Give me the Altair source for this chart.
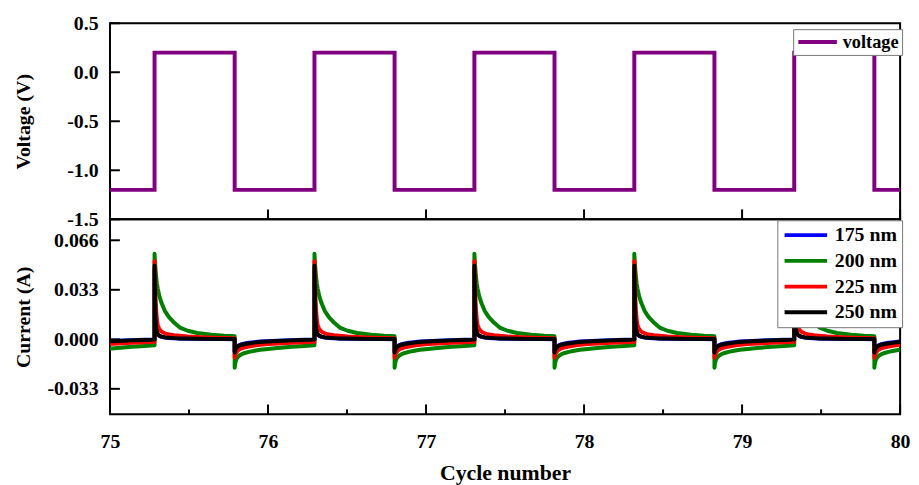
import altair as alt
import pandas as pd

# ---------------- data ----------------
x_major = [75, 76, 77, 78, 79, 80]
x_minor = [75.5, 76.5, 77.5, 78.5, 79.5]
v_ticks = [-1.5, -1.0, -0.5, 0.0, 0.5]
i_ticks = [-0.033, 0.0, 0.033, 0.066]

# switching instants (cycle number)
rise_times = [75.282, 76.294, 77.306, 78.318, 79.330]
fall_times = [74.777, 75.789, 76.801, 77.813, 78.825, 79.837]
v_high = 0.2
v_low = -1.2

series_names = ["175 nm", "200 nm", "225 nm", "250 nm"]
series_colors = ["#0000ff", "#008000", "#ff0000", "#000000"]

# current after a rising edge (offset in cycles, value in A)
high_dt = [0, 0.003, 0.006, 0.01, 0.015, 0.02, 0.03, 0.045, 0.065, 0.09,
           0.125, 0.16, 0.21, 0.27, 0.36, 0.44, 0.507]
high_175 = [0.046, 0.026, 0.013, 0.0070, 0.0045, 0.0033, 0.0023, 0.0016, 0.0012,
            0.0009, 0.0007, 0.0005, 0.0004, 0.0003, 0.0002, 0.0002, 0.0001]
high_200 = [0.057, 0.052, 0.047, 0.042, 0.037, 0.034, 0.029, 0.024, 0.019,
            0.015, 0.011, 0.0078, 0.0057, 0.0042, 0.0030, 0.0024, 0.0021]
high_225 = [0.052, 0.040, 0.029, 0.020, 0.013, 0.0095, 0.0068, 0.0050, 0.0040,
            0.0033, 0.0028, 0.0024, 0.0019, 0.0015, 0.0011, 0.0009, 0.0008]
high_250 = [0.049, 0.028, 0.014, 0.0075, 0.0048, 0.0035, 0.0025, 0.0018, 0.0013,
            0.0010, 0.0008, 0.0006, 0.0005, 0.0004, 0.0003, 0.0002, 0.0002]

# current after a falling edge
low_dt = [0, 0.003, 0.006, 0.01, 0.015, 0.02, 0.03, 0.045, 0.065, 0.09,
          0.125, 0.16, 0.21, 0.27, 0.36, 0.44, 0.505]
low_175 = [-0.0082, -0.0069, -0.0061, -0.0055, -0.0049, -0.0044, -0.0038, -0.0032, -0.0027,
           -0.0023, -0.0019, -0.0015, -0.0012, -0.0009, -0.0006, -0.0003, -0.0001]
low_200 = [-0.0190, -0.0165, -0.0148, -0.0135, -0.0125, -0.0118, -0.0108, -0.0099, -0.0091,
           -0.0084, -0.0076, -0.0070, -0.0064, -0.0058, -0.0050, -0.0044, -0.0040]
low_225 = [-0.0122, -0.0108, -0.0098, -0.0090, -0.0082, -0.0076, -0.0068, -0.0060, -0.0054,
           -0.0048, -0.0042, -0.0037, -0.0032, -0.0028, -0.0023, -0.0019, -0.0017]
low_250 = [-0.0088, -0.0074, -0.0066, -0.0059, -0.0053, -0.0048, -0.0042, -0.0036, -0.0031,
           -0.0027, -0.0022, -0.0018, -0.0014, -0.0011, -0.0007, -0.0004, -0.0002]

high_shapes = [high_175, high_200, high_225, high_250]
low_shapes = [low_175, low_200, low_225, low_250]

# ---------------- tables ----------------
events = sorted([(t, "fall") for t in fall_times] + [(t, "rise") for t in rise_times])

v_rows = []
for t, kind in events:
    v_rows.append({"t": t, "v": v_high if kind == "rise" else v_low, "s": "voltage"})
v_rows.append({"t": events[-1][0] + low_dt[-1], "v": v_low, "s": "voltage"})
vdf = pd.DataFrame(v_rows)

i_rows = []
for name, hs, ls in zip(series_names, high_shapes, low_shapes):
    k = 0
    for t, kind in events:
        dts, vals = (high_dt, hs) if kind == "rise" else (low_dt, ls)
        for dt, val in zip(dts, vals):
            i_rows.append({"t": t + dt, "i": val, "s": name, "k": k})
            k += 1
idf = pd.DataFrame(i_rows)

# ---------------- chart ----------------
FONT = "Liberation Serif"
W, H1, H2 = 798, 198, 197
x_scale = alt.Scale(domain=[75, 80], nice=False, zero=False)
v_scale = alt.Scale(domain=[-1.5, 0.5], nice=False, zero=False)
i_scale = alt.Scale(domain=[-0.05, 0.08], nice=False, zero=False)

def minus_expr(fmt):
    return f"datum.value < 0 ? '-' + format(-datum.value, '{fmt}') : format(datum.value, '{fmt}')"

volt = alt.Chart(vdf).mark_line(interpolate="step-after", strokeWidth=4, clip=True).encode(
    x=alt.X("t:Q", scale=x_scale, axis=None),
    y=alt.Y("v:Q", scale=v_scale,
            axis=alt.Axis(values=v_ticks, title="Voltage (V)", labelExpr=minus_expr(".1f"),
                          titlePadding=34)),
    color=alt.Color("s:N", scale=alt.Scale(domain=["voltage"], range=["#800080"]),
                    legend=alt.Legend(title=None, orient="none", legendX=690, legendY=6,
                                      symbolType="M-1,0H4", symbolSize=242, symbolStrokeWidth=4,
                                      labelFontSize=18.5, fillColor="white", strokeColor="#777777",
                                      padding=3, labelOffset=27)),
)
v_yt = alt.Chart(pd.DataFrame({"v": v_ticks})).mark_rule(color="black", strokeWidth=2).encode(
    y=alt.Y("v:Q", scale=v_scale), x=alt.value(0), x2=alt.value(10))
v_xt = alt.Chart(pd.DataFrame({"t": x_major})).mark_rule(color="black", strokeWidth=2).encode(
    x=alt.X("t:Q", scale=x_scale), y=alt.value(H1), y2=alt.value(H1 - 10))
top = alt.layer(volt, v_yt, v_xt).properties(width=W, height=H1)

cur = alt.Chart(idf).mark_line(strokeWidth=4, clip=True, strokeJoin="round", strokeCap="round").encode(
    x=alt.X("t:Q", scale=x_scale,
            axis=alt.Axis(values=x_major, format="d", title="Cycle number", labelPadding=18,
                          titlePadding=11, titleFontSize=22, labelFlush=False)),
    y=alt.Y("i:Q", scale=i_scale,
            axis=alt.Axis(values=i_ticks, title="Current (A)", labelExpr=minus_expr(".3f"),
                          titlePadding=14)),
    color=alt.Color("s:N", scale=alt.Scale(domain=series_names, range=series_colors),
                    legend=alt.Legend(title=None, orient="none", legendX=674, legendY=1,
                                      symbolType="M-1,0H4.6", symbolSize=235, symbolStrokeWidth=4,
                                      labelFontSize=20, fillColor="white", strokeColor="#777777",
                                      padding=5, rowPadding=6, labelOffset=33)),
    order=alt.Order("k:Q"),
)
c_yt = alt.Chart(pd.DataFrame({"i": i_ticks})).mark_rule(color="black", strokeWidth=2).encode(
    y=alt.Y("i:Q", scale=i_scale), x=alt.value(0), x2=alt.value(10))
c_xt = alt.Chart(pd.DataFrame({"t": x_major})).mark_rule(color="black", strokeWidth=2).encode(
    x=alt.X("t:Q", scale=x_scale), y=alt.value(H2), y2=alt.value(H2 - 10))
c_xm = alt.Chart(pd.DataFrame({"t": x_minor})).mark_rule(color="black", strokeWidth=2).encode(
    x=alt.X("t:Q", scale=x_scale), y=alt.value(H2), y2=alt.value(H2 - 5))
bottom = alt.layer(cur, c_yt, c_xt, c_xm).properties(width=W, height=H2)

chart = alt.vconcat(top, bottom, spacing=0, bounds="flush").resolve_scale(
    color="independent", x="shared"
).resolve_legend(color="independent").properties(
    padding={"left": 4, "top": 2, "right": 0, "bottom": 0}
).configure_view(stroke="black", strokeWidth=2).configure_axis(
    labelFont=FONT, labelFontSize=20, labelFontWeight="bold", labelColor="black",
    titleFont=FONT, titleFontSize=20, titleFontWeight="bold", titleColor="black",
    domain=False, ticks=False, tickSize=0, grid=False, labelPadding=12,
).configure_legend(
    labelFont=FONT, labelFontWeight="bold", labelColor="black",
)

chart.save("out.html", embed_options={"renderer": "svg", "actions": False})
